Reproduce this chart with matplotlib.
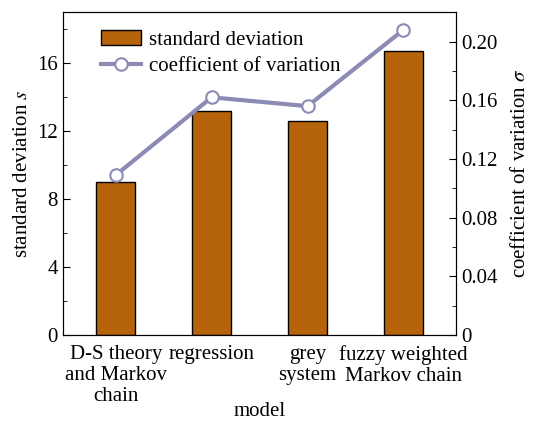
import matplotlib
matplotlib.use("Agg")
import matplotlib.pyplot as plt
from matplotlib.ticker import MultipleLocator

plt.rcParams["font.family"] = ["Liberation Serif", "DejaVu Serif"]
plt.rcParams["mathtext.fontset"] = "stix"

modelos = ["D-S theory\nand Markov\nchain", "regression", "grey\nsystem",
           "fuzzy weighted\nMarkov chain"]
desviacion = [9.0, 13.2, 12.6, 16.7]
coeficiente = [0.109, 0.162, 0.156, 0.208]

fig = plt.figure(figsize=(5.38, 4.21), dpi=100)
ax = fig.add_axes([0.117, 0.204, 0.731, 0.767])
ax2 = ax.twinx()

x = range(len(modelos))
barras = ax.bar(x, desviacion, width=0.41, color="#b5640b", edgecolor="black",
                linewidth=1.0, label="standard deviation", zorder=2)
linea, = ax2.plot(x, coeficiente, color="#8b8bb5", linewidth=3, marker="o",
                  markersize=9, markerfacecolor="white", markeredgecolor="#8b8bb5",
                  markeredgewidth=1.5, label="coefficient of variation", zorder=3)

ax.set_xlim(-0.55, 3.55)
ax.set_ylim(0, 19)
ax2.set_ylim(0, 0.22)

ax.set_xticks(list(x))
ax.set_xticklabels(modelos, fontsize=15, linespacing=1.15)
ax.yaxis.set_major_locator(MultipleLocator(4))
ax.yaxis.set_minor_locator(MultipleLocator(2))
ax2.yaxis.set_minor_locator(MultipleLocator(0.02))
ax2.set_yticks([0, 0.04, 0.08, 0.12, 0.16, 0.20])
ax2.set_yticklabels(["0", "0.04", "0.08", "0.12", "0.16", "0.20"])

ax.tick_params(axis="both", which="both", direction="in", labelsize=15)
ax.tick_params(axis="y", which="major", length=5)
ax.tick_params(axis="y", which="minor", length=3)
ax.tick_params(axis="x", length=5, pad=7)
ax2.tick_params(axis="y", which="both", direction="in", labelsize=15)
ax2.tick_params(axis="y", which="major", length=5)
ax2.tick_params(axis="y", which="minor", length=3)

ax.set_xlabel("model", fontsize=15, labelpad=-3)
ax.set_ylabel("standard deviation $s$", fontsize=15)
ax2.set_ylabel("coefficient of variation $\\sigma$", fontsize=15, labelpad=10)

ax.legend([barras, linea], ["standard deviation", "coefficient of variation"],
          loc="upper left", bbox_to_anchor=(0.06, 0.99), frameon=False,
          fontsize=15, handlelength=1.9, handletextpad=0.4, borderaxespad=0.3,
          labelspacing=0.35)

fig.savefig("out.png", dpi=100)
